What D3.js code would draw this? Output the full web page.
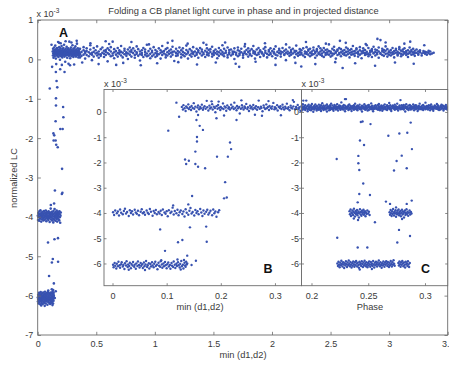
<!DOCTYPE html>
<html><head><meta charset="utf-8">
<script src="https://cdn.jsdelivr.net/npm/d3@7"></script>
<style>body{margin:0;background:#fff}svg{display:block}text{font-family:"Liberation Sans",Arial,Helvetica,sans-serif}</style>
</head><body><svg id="c" width="449" height="365"></svg>
<script>
// ---------- text ----------
const titleText = "Folding a CB planet light curve in phase and in projected distance";
const yLabelText = "normalized LC";
const xLabelMain = "min (d1,d2)";
const xLabelB = "min (d1,d2)";
const xLabelC = "Phase";
// ---------- ticks ----------
const mainXTicks = [0,0.5,1,1.5,2,2.5,3,3.5];
const mainYTicks = [1,0,-1,-2,-3,-4,-5,-6,-7];
const bXTicks = [0,0.1,0.2,0.3];
const cXTicks = [0.2,0.25,0.3];
const inYTicks = [0,-1,-2,-3,-4,-5,-6];
// ---------- data: projected distance (x) vs normalized LC (x1e-3) ----------
// rows: [d, lc, lc, ...]
const bandFar = [
[.361,.14,.27,.05],[.374,.19,.09],[.392,.23,.12,.31],[.405,.16,.02,.2],[.418,.21,.11,.28],[.436,.08,.18],[.449,.25,.14,.36],[.463,.12,-.02,.17],[.478,.19,.29,.07],[.494,.15,.23],
[.507,.1,.33,.17],[.521,.2,.04,.13],[.538,.26,.13,.09],[.552,.17,.3],[.566,.06,.22,.14],[.581,.11,.19,.24],[.597,.28,.16,-.05],[.61,.13,.24],[.624,.2,.08,.31],[.64,.15,.45,.1],
[.653,.18,.03,.26],[.668,.12,.21],[.683,.29,.16,.07],[.697,.14,.23,.18],[.712,.1,.34,.19],[.726,.17,.05],[.741,.22,.13,.27],[.757,.09,.18,.15],[.77,.25,.15,.01],[.786,.2,.12,.3],
[.8,.07,.19,.24],[.815,.16,.28],[.829,.11,.22,.04],[.845,.18,.14,.33],[.858,.26,.09],[.873,.13,.2,-.03],[.889,.23,.16,.11],[.902,.06,.29],[.917,.19,.12,.25],[.932,.15,.37,.08],
[.946,.21,.1],[.961,.14,.27,.03],[.976,.18,.08,.22],[.99,.12,.31],[1.005,.24,.16,.06],[1.019,.09,.2,.14],[1.034,.28,.13],[1.049,.17,.02,.23],[1.063,.11,.19,.34],[1.078,.21,.15],
[1.093,.05,.26,.12],[1.107,.18,.1,.29],[1.122,.14,.22],[1.137,.25,.07,.17],[1.151,.12,.32,.19],[1.166,.2,-.04],[1.181,.16,.27,.09],[1.195,.1,.21,.14],[1.21,.3,.18],[1.225,.13,.05,.23],
[1.239,.19,.28,.11],[1.254,.08,.16],[1.269,.24,.13,.35],[1.283,.17,.02,.2],[1.298,.11,.26],[1.313,.22,.15,.07],[1.327,.14,.31,.18],[1.342,.09,.2],[1.357,.27,.12,.16],[1.371,.04,.23,.19],
[1.386,.15,.29],[1.401,.2,.1,.25],[1.415,.13,.17,.42],[1.43,.22,.06],[1.445,.18,.28,.12],[1.459,.1,.15,.24],[1.474,.26,.19],[1.489,.07,.14,.32],[1.503,.21,.11,.17],[1.518,.16,.25],
[1.533,.03,.2,.13],[1.547,.29,.09,.18],[1.562,.14,.23],[1.577,.19,.12,.36],[1.591,.08,.27,.15],[1.606,.22,.17],[1.621,.11,.3,.05],[1.635,.18,.14,.24],[1.65,.25,.1],[1.665,.13,.2,.16],
[1.679,.01,.28,.19],[1.694,.17,.12],[1.709,.23,.08,.3],[1.723,.15,.21,.11],[1.738,.27,.18],[1.753,.1,.14,.04],[1.767,.2,.33,.16],[1.782,.13,.24],[1.797,.19,.07,.28],[1.811,.15,.22,.12],
[1.826,.09,.26],[1.841,.21,.16,.34],[1.855,.14,.02,.19],[1.87,.25,.11],[1.885,.17,.29,.13],[1.899,.06,.2,.23],[1.914,.18,.15],[1.929,.12,.27,.09],[1.943,.22,.17,.31],[1.958,.14,.05],
[1.973,.2,.24,.11],[1.987,.16,.13,.28],[2.002,.08,.21],[2.017,.26,.15,.18],[2.031,.12,.33,.03],[2.046,.19,.1],[2.061,.23,.16,.27],[2.075,.14,.07,.2],[2.09,.29,.18],[2.105,.11,.22,.13],
[2.119,.17,.25,-.02],[2.134,.2,.14],[2.149,.09,.3,.16],[2.163,.24,.12,.19],[2.178,.15,.27],[2.193,.05,.18,.22],[2.207,.21,.13,.35],[2.222,.16,.09],[2.237,.26,.19,.12],[2.251,.13,.23,.17],
[2.266,.1,.28],[2.281,.2,.15,.06],[2.295,.18,.31,.14],[2.31,.12,.22,.25],[2.325,.27,.08,.17],[2.339,.15,.2,.11],[2.354,.23,.13,.3],[2.369,.04,.19,.16],[2.383,.21,.26,.1],[2.398,.14,.17,.33],
[2.413,.28,.12,.2],[2.427,.09,.23,.15],[2.442,.19,.29,.06],[2.457,.16,.11,.24],[2.471,.25,.18,.13],[2.486,.12,.38,.21],[2.501,.2,.07,.16],[2.515,.15,.27,.1],[2.53,.23,.14,.32],[2.545,.17,.02,.19],
[2.559,.11,.25,.22],[2.574,.29,.13,.16],[2.589,.18,.08,.26],[2.603,.14,.21,-.22],[2.618,.24,.16,.11],[2.633,.1,.3,.19],[2.647,.2,.13,.27],[2.662,.16,.05,.23],[2.677,.26,.18,.12],[2.691,.13,.34,.2],
[2.706,.21,.09,.15],[2.721,.17,.25,.28],[2.735,.07,.19,.14],[2.75,.23,.12,.31],[2.765,.15,.2,.03],[2.779,.28,.17,.22],[2.794,.11,.24,.16],[2.809,.19,.13,.36],[2.823,.14,.29,.08],[2.838,.22,.18,.12],
[2.853,.06,.21,.26],[2.867,.17,.15,.32],[2.882,.25,.1,.19],[2.897,.13,.23,.16],[2.911,.2,.3,.04],[2.926,.16,.49,.14],[2.941,.27,.11,.21],[2.955,.09,.18,.24],[2.97,.22,.14,.33],[2.985,.15,.26,.07],
[2.999,.19,.12,.2],[3.014,.24,.17,.1],[3.029,.13,.29,.18],[3.043,.21,.05,.15],[3.058,.17,.23,.27],[3.073,.1,.19,.13],[3.087,.26,.16,.31],[3.102,.14,.22,.08],[3.117,.2,.12,.25],[3.131,.18,.28,.15],
[3.146,.11,.21,.17],[3.161,.23,.14,.06],[3.175,.16,.3,.19],[3.19,.2,.12,.24],[3.205,.13,.18,.27],[3.219,.22,.09,.16],[3.234,.17,.25],[3.249,.12,.2,.14],[3.263,.19,.23],[3.278,.15,.1],
[3.293,.21,.17],[3.307,.14,.19],[3.322,.18,.12],[3.337,.16,.22],[3.351,.2,.13],[3.366,.15],[3.38,.17]
];
// pairs: [d, lc] — scattered band points away from the core
const bandOut = [
[.45,.41],[.52,-.12],[.61,.39],[.73,-.09],[.8,.44],[.88,-.15],[.95,.38],[1.02,-.1],[1.11,.42],[1.2,-.07],
[1.28,.4],[1.36,-.13],[1.44,.37],[1.52,-.08],[1.6,.43],[1.69,-.11],[1.77,.39],[1.86,-.06],[1.94,.41],[2.03,-.14],
[2.12,.38],[2.2,-.09],[2.29,.44],[2.37,-.12],[2.46,.4],[2.54,-.07],[2.63,.42],[2.71,-.1],[2.8,.39],[2.88,-.16],
[2.97,.43],[3.05,-.08],[3.13,.4],[3.21,-.11],[3.3,.36],[.38,-.08],[.58,.46],[1.15,.47],[2.25,-.18],[2.9,.52],
[3.18,.45],[1.72,-.19],[.67,-.14],[2.58,.47]
];
const bandNear = [
[.128,.2],[.13,.1],[.131,.27],[.133,.15],[.135,.04],[.136,.22],[.138,.17],[.14,.3],[.141,.12],[.143,.19],
[.145,.08],[.146,.24],[.148,.16],[.15,.35],[.151,.13],[.153,.21],[.155,.02],[.157,.18],[.158,.26],[.16,.11],
[.162,.2],[.163,.15],[.165,.29],[.167,.09],[.168,.17],[.17,.23],[.172,.13],[.174,.44],[.175,.19],[.177,.06],
[.179,.25],[.18,.14],[.182,.18],[.184,.31],[.185,.1],[.187,.21],[.189,.16],[.19,-.01],[.192,.23],[.194,.13],
[.195,.28],[.197,.17],[.199,.08],[.2,.2],[.202,.15],[.204,.34],[.205,.12],[.207,.22],[.209,.18],[.21,.05],
[.212,.26],[.214,.14],[.215,.19],[.217,.1],[.219,.29],[.22,.16],[.222,.21],[.224,.12],[.225,.37],[.227,.17],
[.229,.07],[.23,.24],[.232,.15],[.234,.2],[.235,-.06],[.237,.13],[.239,.27],[.24,.18],[.242,.1],[.244,.22],
[.245,.16],[.247,.32],[.249,.12],[.25,.19],[.252,.04],[.254,.25],[.255,.15],[.257,.2],[.259,.11],[.26,.28],
[.262,.17],[.264,.14],[.265,.23],[.267,.09],[.269,.19],[.27,.45],[.272,.13],[.274,.21],[.275,.16],[.277,.03],
[.279,.26],[.28,.18],[.282,.12],[.284,.3],[.285,.15],[.287,.2],[.289,.08],[.29,.24],[.292,.17],[.294,.13],
[.295,.22],[.297,.36],[.299,.11],[.3,.19],[.302,.14],[.304,.27],[.305,.06],[.307,.2],[.309,.16],[.31,.23],
[.312,.12],[.314,.29],[.315,.18],[.317,.1],[.319,.21],[.32,.15],[.322,.33],[.324,.13],[.325,.19],[.327,.07],
[.329,.25],[.33,.17],[.332,.14],[.334,.22],[.335,.4],[.337,.11],[.339,.2],[.34,.16],[.342,.28],[.344,.13],
[.345,.19],[.347,.05],[.349,.23],[.35,.15],[.352,.2],[.354,.1],[.355,.26],[.357,.17],[.359,.13],
[.158,-.12],[.183,.42],[.206,-.14],[.238,.46],[.263,-.11],[.288,.43],[.311,-.13],[.333,.47],[.196,.41],[.276,-.15]
];
const fallPts = [
[.118,.37],[.123,-.19],[.103,-.74],[.155,-.32],[.161,-.55],[.167,-.71],[.156,-.99],[.156,-1.17],[.153,-1.57],[.134,-1.88],
[.141,-1.93],[.136,-2.06],[.153,-2.06],[.158,-2.17],[.171,-2.23],[.192,-.25],[.229,-.32],[.193,-1.77],[.213,-1.77],[.217,-1.21],
[.219,-1.47],[.208,-2.78],[.206,-3.42],[.211,-3.39],[.147,-3.33],[.14,-3.66],[.112,-3.7],[.088,-4.65],[.143,-4.57],[.173,-4.54],
[.129,-5.07],[.121,-5.16],[.174,-5.14],[.097,-5.5],[.138,-5.69],[.154,-5.89],[.146,-6.06]
];
const dip4 = [
[.001,-3.97],[.003,-4.08],[.005,-3.9],[.008,-4.01],[.01,-3.94],[.012,-4.1],[.014,-3.86],[.016,-3.99],[.019,-4.05],[.021,-3.92],
[.023,-3.83],[.025,-4.02],[.027,-3.96],[.03,-4.12],[.032,-3.89],[.034,-4.0],[.036,-3.93],[.038,-4.06],[.041,-3.87],[.043,-3.98],
[.045,-4.03],[.047,-3.91],[.049,-4.09],[.052,-3.95],[.054,-3.85],[.056,-4.01],[.058,-3.97],[.06,-4.07],[.063,-3.9],[.065,-3.99],
[.067,-4.04],[.069,-3.84],[.071,-3.95],[.074,-4.11],[.076,-3.92],[.078,-4.0],[.08,-3.88],[.082,-4.05],[.085,-3.96],[.087,-4.02],
[.089,-3.91],[.091,-4.08],[.093,-3.86],[.096,-3.98],[.098,-4.03],[.1,-3.93],[.102,-4.13],[.104,-3.89],[.107,-4.0],[.109,-3.95],
[.111,-3.79],[.113,-4.06],[.115,-3.92],[.118,-4.01],[.12,-3.87],[.122,-4.09],[.124,-3.97],[.126,-3.9],[.129,-4.04],[.131,-3.94],
[.133,-4.14],[.135,-3.85],[.137,-3.99],[.14,-4.07],[.142,-3.91],[.144,-3.8],[.146,-4.02],[.148,-3.96],[.151,-4.1],[.153,-3.88],
[.155,-4.0],[.157,-3.93],[.159,-4.05],[.162,-3.84],[.164,-3.98],[.166,-4.12],[.168,-3.9],[.17,-4.03],[.173,-3.95],[.175,-3.87],
[.177,-4.06],[.179,-3.99],[.181,-3.91],[.184,-4.09],[.186,-3.86],[.188,-4.01],[.19,-3.94],[.192,-4.15],[.195,-3.97],[.197,-3.89]
];
const dip6 = [
[.001,-6.05],[.002,-6.15],[.004,-5.98],[.005,-6.09],[.007,-6.2],[.008,-6.01],[.01,-6.11],[.011,-5.93],[.013,-6.07],[.014,-6.17],
[.016,-6.03],[.017,-5.95],[.019,-6.12],[.02,-6.06],[.022,-6.22],[.023,-5.99],[.025,-6.08],[.026,-5.91],[.028,-6.14],[.029,-6.04],
[.031,-6.1],[.032,-5.97],[.034,-6.19],[.035,-6.02],[.037,-6.08],[.038,-5.94],[.04,-6.13],[.041,-6.05],[.043,-6.21],[.044,-6.0],
[.046,-6.1],[.047,-5.92],[.049,-6.06],[.05,-6.16],[.052,-5.98],[.053,-6.09],[.055,-6.03],[.056,-6.18],[.058,-5.96],[.059,-6.11],
[.061,-6.04],[.062,-5.9],[.064,-6.14],[.065,-6.07],[.067,-5.99],[.068,-6.2],[.07,-6.02],[.071,-6.12],[.073,-5.95],[.074,-6.08],
[.076,-6.15],[.077,-6.01],[.079,-5.93],[.08,-6.1],[.082,-6.05],[.083,-6.23],[.085,-5.97],[.086,-6.09],[.088,-6.13],[.089,-5.91],
[.091,-6.04],[.092,-6.17],[.094,-6.0],[.095,-6.11],[.097,-5.94],[.098,-6.07],[.1,-6.19],[.101,-6.03],[.103,-5.96],[.104,-6.12],
[.106,-6.06],[.107,-6.21],[.109,-5.98],[.11,-6.09],[.112,-6.14],[.113,-5.92],[.115,-6.05],[.116,-6.18],[.118,-6.01],[.119,-6.1],
[.121,-5.95],[.122,-6.07],[.124,-6.16],[.125,-6.02],[.127,-5.9],[.128,-6.11],[.13,-6.05],[.131,-6.2],[.133,-5.97],[.134,-6.08],
[.135,-6.13],[.136,-5.93],[.137,-6.04],[.138,-6.0],[.126,-6.24],[.132,-5.86],[.06,-6.26],[.09,-5.87],[.03,-6.25],[.12,-5.84]
];
// ---------- data: phase (x) vs normalized LC (x1e-3) ----------
const phaseBand = [
[.1913,.14,.26,.05],[.1924,.19,.1,.31],[.1933,.12,.22,.17],[.1945,.27,.08,.15],[.1954,.16,.2,.45],[.1966,.11,.24,.03],[.1975,.18,.13,.29],[.1983,.22,.15,.09],[.1996,.07,.19,.26],[.2004,.17,.32,.12],
[.2016,.21,.14,.01],[.2025,.1,.25,.18],[.2034,.15,.2,.3],[.2046,.24,.12,.06],[.2053,.13,.18,.22],[.2065,.29,.09,.16],[.2076,.19,.23,.11],[.2084,.04,.15,.27],[.2095,.2,.13,.35],[.2106,.16,.26,.08],
[.2114,.12,.21,.18],[.2125,.25,.1,.14],[.2136,.17,.3,.02],[.2143,.14,.19,.23],[.2156,.22,.07,.16],[.2164,.09,.27,.2],[.2173,.18,.13,.33],[.2185,.26,.15,.11],[.2194,.12,.2,.05],[.2203,.19,.28,.16],
[.2215,.15,.1,.23],[.2226,.31,.17,.13],[.2234,.06,.21,.18],[.2245,.2,.14,.26],[.2256,.13,.24,.09],[.2263,.17,.38,.15],[.2275,.23,.11,.19],[.2284,.1,.18,.28],[.2296,.16,.25,.03],[.2304,.21,.13,.51],
[.2315,.14,.2,.17],[.2325,.27,.08,.22],[.2333,.11,.16,.3],[.2346,.19,.24,.12],[.2353,.15,.04,.2],[.2366,.24,.17,.13],[.2374,.09,.21,.27],[.2384,.18,.14,.33],[.2395,.22,.11,.16],[.2405,.13,.26,.07],
[.2413,.2,.16,.23],[.2424,.29,.12,.18],[.2436,.1,.19,.15],[.2445,.17,.25,.02],[.2453,.23,.14,.2],[.2466,.12,.31,.16],[.2474,.19,.09,.24],[.2485,.15,.22,.13],[.2494,.26,.17,.06],[.2505,.08,.2,.28],
[.2513,.18,.14,.21],[.2526,.21,.34,.11],[.2535,.14,.19,.25],[.2543,.1,.16,.03],[.2554,.24,.13,.2],[.2565,.17,.27,.15],[.2573,.12,.21,.18],[.2586,.28,.09,.14],[.2594,.16,.23,.32],[.2603,.2,.12,.07],
[.2615,.13,.19,.26],[.2624,.05,.17,.22],[.2634,.25,.15,.11],[.2645,.18,.3,.19],[.2653,.11,.2,.14],[.2666,.22,.08,.27],[.2673,.15,.24,.17],[.2685,.19,.13,.36],[.2694,.27,.16,.1],[.2703,.12,.21,.04],
[.2716,.17,.26,.2],[.2725,.23,.14,.15],[.2734,.09,.19,.29],[.2744,.16,.12,.23],[.2755,.2,.33,.13],[.2763,.14,.18,.06],[.2776,.26,.22,.17],[.2784,.11,.15,.47],[.2795,.19,.27,.12],[.2806,.13,.2,.24],
[.2813,.28,.1,.16],[.2826,.17,.23,.02],[.2835,.15,.18,.31],[.2843,.21,.12,.2],[.2855,.08,.25,.14],[.2866,.18,.16,.28],[.2874,.24,.13,.1],[.2883,.12,.22,.19],[.2896,.2,.3,.15],[.2904,.16,.07,.23],
[.2915,.27,.18,.12],[.2924,.13,.21,.26],[.2935,.19,.15,.04],[.2944,.1,.24,.17],[.2953,.22,.14,.33],[.2966,.17,.2,.11],[.2975,.25,.12,.18],[.2984,.14,.28,.08],[.2995,.2,.16,.22],[.3004,.11,.19,.37],
[.3014,.18,.24,.14],[.3026,.23,.1,.2],[.3033,.15,.27,.16],[.3045,.07,.18,.25],[.3054,.21,.13,.3],[.3065,.16,.22,.12],[.3073,.12,.19,.05],[.3086,.26,.15,.23],[.3094,.18,.21,.14],[.3105,.13,.32,.19],
[.3113,.22,.11,.27],[.3124,.17,.16,.08],[.3136,.1,.24,.2],[.3145,.2,.14,.29],[.3154,.15,.26,.18],[.3163,.24,.12,.06],[.3175,.14,.19,.22],[.3184,.19,.28,.13],[.3196,.16,.1,.21]
];
const phaseFall = [
[.1928,.45],[.2295,.51],[.245,-.38],[.2435,-.4],[.252,-.48],[.2427,-1.13],[.2463,-1.31],[.2222,-1.86],[.2413,-1.74],[.2413,-2.03],
[.2421,-2.3],[.2456,-2.83],[.2421,-3.25],[.2515,-3.29],[.2677,-.94],[.2774,-.85],[.2844,-.82],[.2874,-.42],[.2885,-1.47],[.2795,-1.73],
[.275,-1.94],[.2727,-2.32],[.2839,-2.23],[.2656,-3.55],[.2692,-3.64],[.2839,-3.64],[.2883,-3.51],[.2407,-3.58],[.2559,-4.37],[.241,-4.28],
[.2771,-4.67],[.2227,-4.98],[.2756,-5.17],[.2868,-4.91],[.2407,-5.37],[.2492,-5.37]
];
const phaseL4 = [
[.2335,-3.93],[.2339,-4.05],[.2344,-3.86],[.2348,-4.12],[.2352,-3.98],[.2357,-4.02],[.2361,-3.9],[.2366,-4.08],[.237,-3.95],[.2374,-3.83],
[.2379,-4.0],[.2383,-4.14],[.2388,-3.92],[.2392,-4.04],[.2396,-3.97],[.2401,-3.88],[.2405,-4.09],[.241,-4.01],[.2414,-3.94],[.2418,-4.18],
[.2423,-3.99],[.2427,-3.85],[.2432,-4.06],[.2436,-3.96],[.244,-4.11],[.2445,-3.91],[.2449,-4.03],[.2454,-3.97],[.2458,-3.87],[.2462,-4.07],
[.2467,-4.0],[.2471,-3.93],[.2476,-4.13],[.248,-3.98],[.2485,-4.04],[.2492,-3.9],[.2499,-4.02],[.2506,-3.95],[.2512,-4.08],[.2373,-4.22]
];
const phaseR4 = [
[.2688,-3.97],[.2692,-4.07],[.2697,-3.88],[.2701,-4.01],[.2706,-4.12],[.271,-3.93],[.2714,-4.04],[.2719,-3.84],[.2723,-3.99],[.2727,-4.1],
[.2732,-3.95],[.2736,-4.02],[.274,-3.89],[.2745,-4.15],[.2749,-3.98],[.2754,-4.05],[.2758,-3.91],[.2762,-4.01],[.2767,-3.86],[.2771,-4.09],
[.2775,-3.96],[.278,-4.03],[.2784,-3.92],[.2788,-4.13],[.2793,-3.99],[.2797,-3.87],[.2802,-4.06],[.2806,-3.94],[.281,-4.02],[.2815,-4.18],
[.2819,-3.97],[.2823,-3.9],[.2828,-4.08],[.2832,-4.0],[.2837,-3.85],[.2841,-4.04],[.2846,-3.95],[.2852,-4.11],[.2858,-3.99],[.2864,-3.9],
[.287,-4.06],[.2876,-3.96],[.2881,-4.02],[.2745,-3.78],[.2798,-4.24]
];
const phase6 = [
[.2228,-6.0],[.2233,-6.1],[.2238,-5.93],[.2243,-6.05],[.2248,-6.15],[.2253,-5.97],[.2258,-6.07],[.2263,-5.89],[.2268,-6.02],[.2273,-6.12],
[.2278,-5.95],[.2283,-6.04],[.2288,-6.18],[.2293,-5.99],[.2298,-6.08],[.2303,-5.91],[.2308,-6.03],[.2313,-6.14],[.2318,-5.96],[.2323,-6.06],
[.2328,-5.88],[.2333,-6.01],[.2338,-6.11],[.2343,-5.94],[.2348,-6.05],[.2353,-6.16],[.2358,-5.98],[.2363,-6.09],[.2368,-5.92],[.2373,-6.03],
[.2378,-6.13],[.2383,-5.95],[.2388,-6.07],[.2393,-5.9],[.2398,-6.0],[.2403,-6.12],[.2408,-5.97],[.2413,-6.06],[.2418,-6.17],[.2423,-5.93],
[.2428,-6.04],[.2433,-5.99],[.2438,-6.1],[.2443,-5.91],[.2448,-6.02],[.2453,-6.14],[.2458,-5.96],[.2463,-6.07],[.2468,-5.89],[.2473,-6.01],
[.2478,-6.11],[.2483,-5.95],[.2488,-6.05],[.2493,-6.15],[.2498,-5.98],[.2503,-6.08],[.2508,-5.92],[.2513,-6.03],[.2518,-6.13],[.2523,-5.94],
[.2528,-6.06],[.2533,-6.0],[.2538,-6.1],[.2543,-5.9],[.2548,-6.04],[.2553,-6.16],[.2558,-5.97],[.2563,-6.07],[.2568,-5.93],[.2573,-6.02],
[.2578,-6.12],[.2583,-5.96],[.2588,-6.05],[.2593,-5.88],[.2598,-6.01],[.2603,-6.11],[.2608,-5.95],[.2613,-6.06],[.2618,-6.17],[.2623,-5.99],
[.2628,-6.08],[.2633,-5.92],[.2638,-6.03],[.2643,-6.13],[.2648,-5.96],[.2653,-6.05],[.2658,-5.91],[.2663,-6.0],[.2668,-6.1],[.2673,-5.94],
[.2678,-6.04],[.2683,-6.14],[.2688,-5.97],[.2693,-6.07],[.2698,-5.9],[.2703,-6.02],[.2708,-6.12],[.2713,-5.95],[.2718,-6.05],[.2723,-5.87],
[.2728,-6.01],[.2733,-6.09],
[.2765,-5.98],[.277,-6.08],[.2775,-5.92],[.278,-6.03],[.2785,-6.13],[.279,-5.95],[.2795,-6.05],[.28,-5.9],[.2805,-6.0],[.281,-6.11],
[.2815,-5.96],[.282,-6.06],[.2825,-6.16],[.283,-5.93],[.2835,-6.03],[.284,-5.99],[.2845,-6.1],[.285,-5.91],[.2855,-6.04],[.286,-6.14],[.2866,-5.98],[.2532,-6.22],[.2425,-6.24]
];

// ---------- build point lists ----------
function expandRows(rows){const o=[];rows.forEach(r=>{for(let i=1;i<r.length;i++)o.push([r[0],r[i]]);});return o;}
const nearPts = [].concat(bandNear, fallPts, dip4, dip6);
const mainPts = [].concat(expandRows(bandFar), bandOut, nearPts);
const phasePts = [].concat(expandRows(phaseBand), phaseFall, phaseL4, phaseR4, phase6);

// ---------- layout ----------
const W=449,H=365;
const A={l:37.7,r:447.7,t:20,b:335};
const B={l:104,r:301.5,t:89.5,b:285.7};
const C={l:301.5,r:447.7,t:89.5,b:285.7};
const dotColor="#3852b0", axisColor="#6b6b6b", textColor="#3a3a3a";
const FS=9;

const svg=d3.select("#c");
const xA=d3.scaleLinear().domain([0,3.5]).range([A.l,A.r]);
const yA=d3.scaleLinear().domain([-7,1]).range([A.b,A.t]);
const xB=d3.scaleLinear().domain([-0.0157,0.349]).range([B.l,B.r]);
const yIn=d3.scaleLinear().domain([-6.88,0.89]).range([B.b,B.t]);
const xC=d3.scaleLinear().domain([0.1912,0.32]).range([C.l,C.r]);

const defs=svg.append("defs");
defs.append("clipPath").attr("id","clipB").append("rect").attr("x",B.l).attr("y",B.t).attr("width",B.r-B.l).attr("height",B.b-B.t);
defs.append("clipPath").attr("id","clipC").append("rect").attr("x",C.l).attr("y",C.t).attr("width",C.r-C.l).attr("height",C.b-C.t);

function styleAxis(g,showText){
  g.select(".domain").remove();
  g.selectAll(".tick line").attr("stroke",axisColor).attr("stroke-width",0.8);
  g.selectAll(".tick text").attr("fill",textColor).attr("font-size",FS);
  if(!showText) g.selectAll(".tick text").remove();
}
function drawAxes(box,x,y,xt,yt,tl,padX,padY){
  const gb=svg.append("g").attr("transform",`translate(0,${box.b})`)
    .call(d3.axisBottom(x).tickValues(xt).tickSize(-tl).tickPadding(padX).tickFormat(d=>String(d)));
  styleAxis(gb,true);
  const gt=svg.append("g").attr("transform",`translate(0,${box.t})`)
    .call(d3.axisTop(x).tickValues(xt).tickSize(-tl));
  styleAxis(gt,false);
  const gl=svg.append("g").attr("transform",`translate(${box.l},0)`)
    .call(d3.axisLeft(y).tickValues(yt).tickSize(-tl).tickPadding(padY).tickFormat(d=>String(d)));
  styleAxis(gl,true);
  const gr=svg.append("g").attr("transform",`translate(${box.r},0)`)
    .call(d3.axisRight(y).tickValues(yt).tickSize(-tl));
  styleAxis(gr,false);
  svg.append("rect").attr("x",box.l).attr("y",box.t).attr("width",box.r-box.l).attr("height",box.b-box.t)
    .attr("fill","none").attr("stroke",axisColor).attr("stroke-width",0.9);
}
function expLabel(x,y){
  const t=svg.append("text").attr("x",x).attr("y",y).attr("fill",textColor).attr("font-size",FS);
  t.append("tspan").text("x 10");
  t.append("tspan").attr("dy",-4).attr("font-size",6.5).text("-3");
}
function dots(g,pts,x,y,r){
  g.selectAll("circle").data(pts).join("circle")
    .attr("cx",d=>x(d[0])).attr("cy",d=>y(d[1])).attr("r",r).attr("fill",dotColor);
}

// ---------- main panel A ----------
svg.append("rect").attr("width",W).attr("height",H).attr("fill","#fff");
dots(svg.append("g"),mainPts,xA,yA,1.3);
drawAxes(A,xA,yA,mainXTicks,mainYTicks,3.2,6,4.5);
expLabel(36.5,16.5);
svg.append("text").attr("x",243.5).attr("y",13.5).attr("text-anchor","middle").attr("fill",textColor)
  .attr("font-size",9.3).text(titleText);
svg.append("text").attr("x",243).attr("y",358).attr("text-anchor","middle").attr("fill",textColor)
  .attr("font-size",9.3).text(xLabelMain);
svg.append("text").attr("transform","translate(17,178) rotate(-90)").attr("text-anchor","middle").attr("fill",textColor)
  .attr("font-size",9.3).text(yLabelText);
svg.append("text").attr("x",59).attr("y",37).attr("fill","#111").attr("font-size",12.5).attr("font-weight","bold").text("A");

// ---------- inset B ----------
svg.append("rect").attr("x",B.l).attr("y",B.t).attr("width",B.r-B.l).attr("height",B.b-B.t).attr("fill","#fff");
dots(svg.append("g").attr("clip-path","url(#clipB)"),nearPts,xB,yIn,1.2);
drawAxes(B,xB,yIn,bXTicks,inYTicks,2.5,6.5,2.5);
expLabel(104,87);
svg.append("text").attr("x",200).attr("y",309.5).attr("text-anchor","middle").attr("fill",textColor)
  .attr("font-size",9.3).text(xLabelB);
svg.append("text").attr("x",263.5).attr("y",273).attr("fill","#111").attr("font-size",12.5).attr("font-weight","bold").text("B");

// ---------- inset C ----------
svg.append("rect").attr("x",C.l).attr("y",C.t).attr("width",C.r-C.l).attr("height",C.b-C.t).attr("fill","#fff");
dots(svg.append("g").attr("clip-path","url(#clipC)"),phasePts,xC,yIn,1.2);
drawAxes(C,xC,yIn,cXTicks,inYTicks,2.5,6.5,2.5);
expLabel(301.5,87);
svg.append("text").attr("x",370).attr("y",310).attr("text-anchor","middle").attr("fill",textColor)
  .attr("font-size",9.3).text(xLabelC);
svg.append("text").attr("x",421).attr("y",273).attr("fill","#111").attr("font-size",12.5).attr("font-weight","bold").text("C");
</script></body></html>
